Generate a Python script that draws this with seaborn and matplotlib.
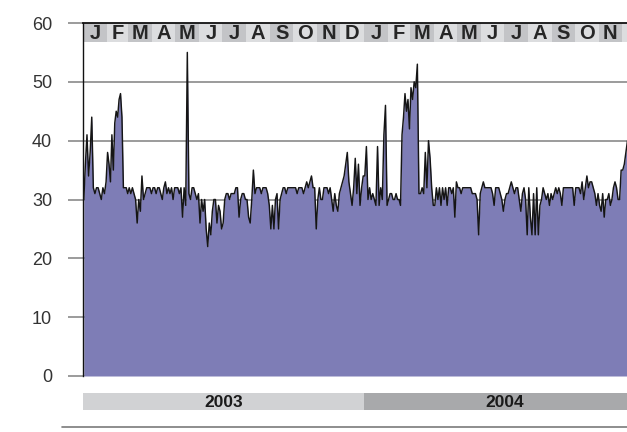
import matplotlib
matplotlib.use('Agg')
import matplotlib.pyplot as plt
import seaborn as sns
import pandas as pd

# daily level readings, roughly two-day steps, one list per month
jan03 = [30, 36, 41, 34, 38, 44, 32, 31, 32, 32, 31, 30, 32, 31, 33]
feb03 = [38, 36, 33, 41, 35, 43, 45, 44, 47, 48, 44, 32, 32, 32, 31]
mar03 = [32, 31, 32, 31, 30, 26, 30, 28, 34, 30, 31, 32, 32, 32, 31]
apr03 = [32, 32, 31, 32, 32, 31, 30, 32, 33, 31, 32, 31, 32, 30, 32]
may03 = [32, 32, 31, 32, 27, 32, 29, 55, 31, 30, 32, 32, 31, 30, 31]
jun03 = [26, 30, 28, 30, 25, 22, 26, 24, 28, 30, 30, 26, 29, 28, 25]
jul03 = [26, 30, 31, 31, 30, 31, 31, 31, 32, 32, 27, 30, 31, 31, 30]
aug03 = [30, 27, 26, 30, 35, 31, 32, 32, 32, 31, 32, 32, 32, 31, 29]
sep03 = [25, 29, 25, 30, 31, 25, 30, 31, 32, 32, 31, 32, 32, 32, 32]
oct03 = [32, 32, 31, 32, 32, 32, 31, 32, 33, 32, 33, 34, 32, 32, 25]
nov03 = [30, 32, 30, 30, 32, 32, 32, 31, 32, 30, 28, 31, 29, 28, 31]
dec03 = [32, 33, 34, 36, 38, 33, 31, 29, 32, 37, 31, 36, 29, 32, 34]
jan04 = [34, 39, 30, 32, 30, 31, 30, 29, 39, 29, 32, 30, 41, 46, 29]
feb04 = [30, 31, 31, 30, 30, 31, 30, 30, 29, 41, 44, 48, 45, 47, 42]
mar04 = [49, 47, 50, 49, 53, 31, 31, 32, 31, 38, 32, 40, 37, 32, 29]
apr04 = [29, 32, 30, 32, 29, 32, 30, 32, 29, 32, 32, 31, 32, 27, 33]
may04 = [32, 32, 31, 32, 32, 32, 32, 32, 32, 31, 31, 31, 30, 24, 31]
jun04 = [32, 33, 32, 32, 32, 32, 32, 31, 29, 32, 32, 32, 31, 30, 28]
jul04 = [30, 31, 31, 32, 33, 32, 31, 32, 32, 30, 28, 31, 32, 30, 24]
aug04 = [32, 27, 24, 31, 24, 32, 24, 29, 30, 32, 31, 30, 31, 29, 31]
sep04 = [30, 31, 32, 31, 32, 31, 29, 32, 32, 32, 32, 32, 32, 32, 29]
oct04 = [32, 32, 32, 31, 33, 30, 32, 34, 32, 33, 33, 32, 31, 29, 31]
nov04 = [29, 28, 31, 27, 30, 30, 31, 29, 30, 32, 33, 32, 30, 30, 35]
dec04 = [35, 36, 38, 40]

monthly = [jan03, feb03, mar03, apr03, may03, jun03, jul03, aug03, sep03,
           oct03, nov03, dec03, jan04, feb04, mar04, apr04, may04, jun04,
           jul04, aug04, sep04, oct04, nov04, dec04]
month_letters = list('JFMAMJJASOND')
years = [2003, 2004]

# build dates: 15 samples per month spread over the month
dates, values = [], []
for k, vals in enumerate(monthly):
    start = pd.Timestamp(2003 + k // 12, k % 12 + 1, 1)
    step = start.days_in_month / 15
    for i, v in enumerate(vals):
        dates.append(start + pd.Timedelta(days=(i + 0.5) * step))
        values.append(v)
df = pd.DataFrame({'date': dates, 'value': values})

sns.set_theme(style='white')
plt.rcParams['font.family'] = ['Liberation Sans', 'DejaVu Sans']

W, H = 627, 432
fig = plt.figure(figsize=(W / 100, H / 100), dpi=100)
ax = fig.add_axes([83 / W, 56 / H, 544 / W, 353 / H])
ybar = fig.add_axes([83 / W, 22 / H, 544 / W, 17 / H], sharex=ax)

ax.fill_between(df['date'], df['value'], 0, color='#7e7db6', linewidth=0, zorder=2)
sns.lineplot(data=df, x='date', y='value', ax=ax, color='#151515',
             linewidth=1.05, zorder=3)

x0 = pd.Timestamp('2003-01-01')
x1 = x0 + pd.Timedelta(days=706.6)
ax.set_xlim(x0, x1)
ax.set_ylim(0, 60)
ax.set_yticks(range(0, 70, 10))
ax.set_xticks([])
ax.set_xlabel('')
ax.set_ylabel('')
ax.grid(axis='y', color='#8a8a8a', linewidth=1.2)
ax.set_axisbelow(True)
ax.tick_params(axis='y', left=True, length=10.8, width=1.2, color='#8a8a8a',
               pad=11.5, labelsize=13, labelcolor='#333333')
for side in ['right', 'bottom']:
    ax.spines[side].set_visible(False)
ax.spines['left'].set_color('#111111')
ax.spines['left'].set_linewidth(1.0)
ax.spines['top'].set_color('#111111')
ax.spines['top'].set_linewidth(1.3)

# month strip along the top
strip_lo = 56.7
for k in range(24):
    ms = pd.Timestamp(2003 + k // 12, k % 12 + 1, 1)
    me = ms + pd.offsets.MonthBegin(1)
    ax.axvspan(ms, me, ymin=strip_lo / 60, ymax=1,
               color='#c3c4c7' if k % 2 == 0 else '#dcdddf', lw=0, zorder=1)
    mid = ms + (me - ms) / 2
    if mid < x1 - pd.Timedelta(days=8):
        ax.text(mid, (strip_lo + 60) / 2 - 0.1, month_letters[k % 12],
                ha='center', va='center', fontsize=14.5, fontweight='bold',
                color='#262626', zorder=4)

# year bar
for j, yr in enumerate(years):
    ys = pd.Timestamp(yr, 1, 1)
    ye = pd.Timestamp(yr + 1, 1, 1)
    ybar.axvspan(ys, ye, color='#d1d2d4' if j == 0 else '#a8a9ab', lw=0)
    ybar.text(ys + (ye - ys) / 2, 0.45, str(yr), ha='center', va='center',
              fontsize=12.5, fontweight='bold', color='#1a1a1a', clip_on=True)
ybar.set_ylim(0, 1)
ybar.axis('off')

fig.add_artist(plt.Line2D([62 / W, 1], [5 / H, 5 / H], color='#7a7a7a',
                          linewidth=1.2))

fig.savefig('out.png', dpi=100)
